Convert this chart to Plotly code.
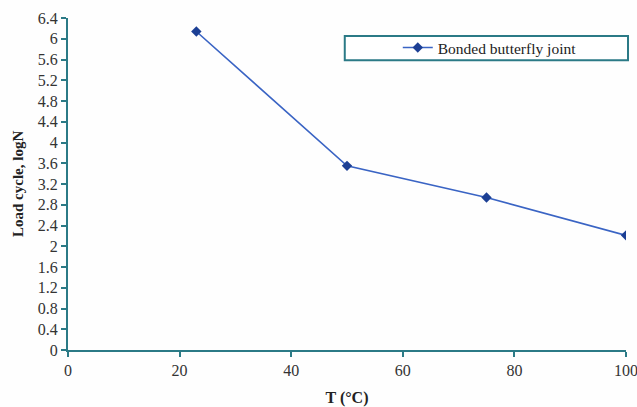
import plotly.graph_objects as go

# Fatigue life of a bonded butterfly joint versus test temperature
temperature_c = [23, 50, 75, 100]
log_cycles = [6.14, 3.55, 2.94, 2.21]
series_name = "Bonded butterfly joint"
x_title = "T (°C)"
y_title = "Load cycle, logN"

axis_color = "#2b7a86"
font_family = "Liberation Serif, Times New Roman, serif"
text_color = "#333333"

fig = go.Figure()
fig.add_trace(go.Scatter(
    x=temperature_c,
    y=log_cycles,
    mode="lines+markers",
    name=series_name,
    line=dict(color="#3a64c4", width=1.6),
    marker=dict(symbol="diamond", size=8, color="#1c3f94"),
))

fig.update_layout(
    width=637,
    height=407,
    margin=dict(l=68, r=11, t=18, b=57),
    paper_bgcolor="#fefefe",
    plot_bgcolor="#fefefe",
    font=dict(family=font_family, size=16, color=text_color),
    showlegend=True,
    legend=dict(
        x=0.591, y=0.91, xanchor="left", yanchor="middle",
        bgcolor="rgba(0,0,0,0)",
        borderwidth=0,
        font=dict(family=font_family, size=15.5, color="#222222"),
        itemwidth=30,
    ),
    shapes=[dict(
        type="rect", xref="paper", yref="paper",
        x0=0.496, x1=1.0036, y0=0.873, y1=0.946,
        line=dict(color=axis_color, width=2),
        fillcolor="white", layer="below",
    )],
    annotations=[dict(
        text=f"<b>{y_title}</b>",
        xref="paper", yref="paper",
        x=-0.0896, y=0.5,
        xanchor="center", yanchor="middle",
        textangle=-90, showarrow=False,
        font=dict(size=15, color="#222222"),
    )],
    xaxis=dict(
        range=[0, 100],
        dtick=20,
        tick0=0,
        automargin=False,
        ticklabeloverflow="allow",
        showgrid=False,
        zeroline=False,
        showline=True,
        linecolor=axis_color,
        linewidth=2,
        ticks="outside",
        ticklen=5,
        tickcolor=axis_color,
        tickwidth=1.5,
        tickfont=dict(size=16, color=text_color),
        title=dict(text=f"<b>{x_title}</b>", font=dict(size=16, color="#222222"), standoff=14),
    ),
    yaxis=dict(
        range=[0, 6.4],
        dtick=0.4,
        tick0=0,
        automargin=False,
        ticklabeloverflow="allow",
        showgrid=False,
        zeroline=False,
        showline=True,
        linecolor=axis_color,
        linewidth=2,
        ticks="outside",
        ticklen=5,
        tickcolor=axis_color,
        tickwidth=1.5,
        tickfont=dict(size=16, color=text_color),
    ),
)

fig.write_html("out.html")
